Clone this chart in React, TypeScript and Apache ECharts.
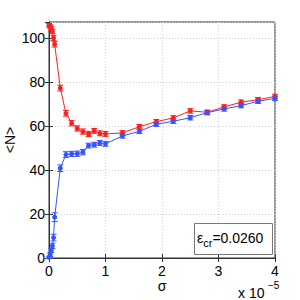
import React, { useEffect, useRef } from "react";
import * as echarts from "echarts";

const sigma = [0, 0.02, 0.04, 0.06, 0.08, 0.1, 0.2, 0.3, 0.4, 0.5, 0.6, 0.7, 0.8, 0.9, 1.0, 1.3, 1.6, 1.9, 2.2, 2.5, 2.8, 3.1, 3.4, 3.7, 4.0];
const redN = [106, 105.5, 104.6, 103.2, 100.2, 97.4, 77.4, 65.9, 61.4, 59, 57.6, 56.5, 57.9, 56.8, 56.5, 57, 59.8, 62.1, 63.8, 67, 66.4, 68.8, 71, 72.1, 73.6];
const blueN = [0.3, 1.5, 3.5, 5.5, 9.3, 18.6, 40.9, 47.1, 47.4, 47.5, 48.2, 51.2, 51.6, 52.4, 52, 55.6, 57.7, 60.9, 62.3, 63.9, 66.2, 67.9, 69.4, 71.4, 72.7];
const redErr = [0.8, 0.8, 0.9, 1, 1.2, 1.3, 1.3, 1.3, 1.2, 1.2, 1.2, 1.2, 1.1, 1.1, 1.1, 1.0, 1.0, 1.0, 1.0, 1.0, 1.0, 1.0, 1.0, 1.0, 1.0];
const blueErr = [0.5, 0.8, 1.0, 1.2, 1.5, 2.0, 1.5, 1.3, 1.2, 1.2, 1.2, 1.1, 1.1, 1.1, 1.1, 1.0, 1.0, 1.0, 1.0, 1.0, 1.0, 1.0, 1.0, 1.0, 1.0];
const xTicks = [0, 1, 2, 3, 4];
const yTicks = [0, 20, 40, 60, 80, 100];
const annotation = "0.0260";

const RED = "#ff1f1f";
const BLUE = "#3355ff";
const AXIS = "#333";
const FONT = "Liberation Sans";

function errSeries(vals: number[], errs: number[], color: string) {
  return {
    type: "custom",
    data: sigma.map((s, i) => [s, vals[i], errs[i]]),
    encode: { x: 0, y: 1 },
    z: 3,
    renderItem: (params: any, api: any) => {
      const x = api.value(0);
      const y = api.value(1);
      const e = api.value(2);
      const hi = api.coord([x, y + e]);
      const lo = api.coord([x, y - e]);
      const w = 3;
      const st = { stroke: color, lineWidth: 1 };
      return {
        type: "group",
        children: [
          { type: "line", shape: { x1: hi[0], y1: hi[1], x2: lo[0], y2: lo[1] }, style: st },
          { type: "line", shape: { x1: hi[0] - w, y1: hi[1], x2: hi[0] + w, y2: hi[1] }, style: st },
          { type: "line", shape: { x1: lo[0] - w, y1: lo[1], x2: lo[0] + w, y2: lo[1] }, style: st },
        ],
      };
    },
  };
}

export default function App() {
  const ref = useRef<HTMLDivElement>(null);
  useEffect(() => {
    const chart = echarts.init(ref.current!, null, { renderer: "svg" });
    const axisLabel = { color: "#000", fontSize: 14, fontFamily: FONT };
    chart.setOption({
      animation: false,
      backgroundColor: "#fff",
      grid: { left: 49, right: 25, top: 22, bottom: 42, show: true, borderColor: AXIS, borderWidth: 1, backgroundColor: "transparent" },
      xAxis: [
        {
          type: "value", min: 0, max: 4, interval: 1,
          axisLine: { show: true, lineStyle: { color: AXIS } },
          axisTick: { show: true, inside: true, length: 4, lineStyle: { color: AXIS } },
          axisLabel: { ...axisLabel, margin: 6, formatter: (v: number) => (xTicks.includes(v) ? String(v) : "") },
          splitLine: { show: true, lineStyle: { color: "#d0d0d0", type: [1, 2] } },
        },
        {
          type: "value", min: 0, max: 4, interval: 1, position: "top",
          axisLine: { show: true, lineStyle: { color: AXIS } },
          axisTick: { show: true, inside: true, length: 4, lineStyle: { color: AXIS } },
          axisLabel: { show: false },
          splitLine: { show: false },
        },
      ],
      yAxis: [
        {
          type: "value", min: 0, max: 107.5, interval: 20,
          axisLine: { show: true, lineStyle: { color: AXIS } },
          axisTick: { show: true, inside: true, length: 4, lineStyle: { color: AXIS } },
          axisLabel: { ...axisLabel, margin: 4, showMaxLabel: false, formatter: (v: number) => (yTicks.includes(v) ? String(v) : "") },
          splitLine: { show: true, lineStyle: { color: "#d0d0d0", type: [1, 2] } },
        },
        {
          type: "value", min: 0, max: 107.5, interval: 20, position: "right",
          axisLine: { show: true, lineStyle: { color: AXIS } },
          axisTick: { show: true, inside: true, length: 4, lineStyle: { color: AXIS } },
          axisLabel: { show: false },
          splitLine: { show: false },
        },
      ],
      series: [
        {
          type: "line", data: sigma.map((s, i) => [s, redN[i]]),
          lineStyle: { color: RED, width: 1 }, itemStyle: { color: RED },
          symbol: "circle", symbolSize: 5, showAllSymbol: true, z: 4,
        },
        errSeries(redN, redErr, RED),
        {
          type: "line", data: sigma.map((s, i) => [s, blueN[i]]),
          lineStyle: { color: BLUE, width: 1 }, itemStyle: { color: BLUE },
          symbol: "circle", symbolSize: 5, showAllSymbol: true, z: 4,
        },
        errSeries(blueN, blueErr, BLUE),
      ],
      graphic: [
        { type: "text", x: 10, y: 140, rotation: Math.PI / 2, style: { text: "<N>", font: `14px ${FONT}`, fill: "#000", align: "center", verticalAlign: "middle" } },
        { type: "text", x: 162, y: 286, style: { text: "σ", font: `14px ${FONT}`, fill: "#000", align: "center", verticalAlign: "middle" } },
        { type: "text", x: 238, y: 293, style: { text: "x 10", font: `14px ${FONT}`, fill: "#000", verticalAlign: "middle" } },
        { type: "text", x: 268, y: 285, style: { text: "−5", font: `10px ${FONT}`, fill: "#000", verticalAlign: "middle" } },
        { type: "rect", shape: { x: 194.5, y: 223.5, width: 78, height: 31 }, style: { fill: "#fff", stroke: "#777", lineWidth: 1 }, z: 10 },
        {
          type: "text", x: 197, y: 238, z: 11,
          style: {
            text: "{e|ε}{s|cr}{e|=" + annotation + "}",
            verticalAlign: "middle",
            rich: {
              e: { font: `14px ${FONT}`, fill: "#000" },
              s: { font: `11px ${FONT}`, fill: "#000", padding: [9, 0, 0, 0] },
            },
          },
        },
      ],
    });
    return () => chart.dispose();
  }, []);
  return <div ref={ref} style={{ position: "fixed", left: 0, top: 0, width: 300, height: 300 }} />;
}
